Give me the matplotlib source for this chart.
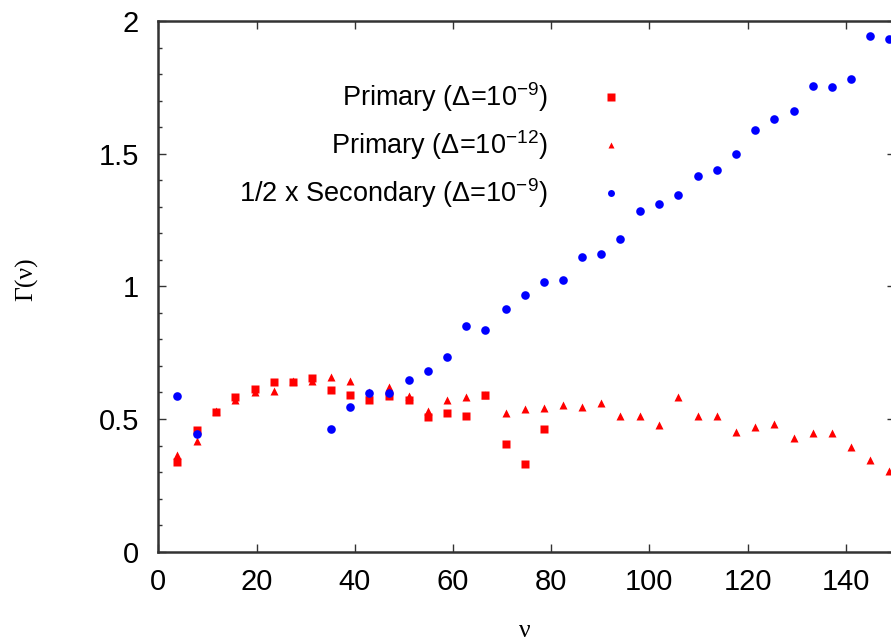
"""Gamma(nu) for primary and secondary runs, gnuplot-style scatter."""

import matplotlib

matplotlib.use("Agg")
import matplotlib.pyplot as plt
from matplotlib.ticker import MultipleLocator

plt.rcParams.update(
    {
        "font.family": ["Liberation Sans", "DejaVu Sans"],
        "mathtext.fontset": "custom",
        "mathtext.rm": "Liberation Sans",
        "mathtext.it": "Liberation Sans",
    }
)

# nu positions of the samples
NU = [3.9, 7.9, 11.8, 15.7, 19.6, 23.5, 27.4, 31.3, 35.2, 39.1, 43.0, 47.0, 51.0,
      54.9, 58.8, 62.7, 66.6, 70.7, 74.6, 78.5, 82.4, 86.3, 90.2, 94.1, 98.0,
      102.0, 105.8, 109.8, 113.7, 117.6, 121.6, 125.4, 129.4, 133.3, 137.2,
      141.1, 145.0, 148.7]

# Primary, Delta = 1e-9 (first 20 nu values)
PRIMARY_9 = [0.337, 0.460, 0.528, 0.582, 0.614, 0.640, 0.641, 0.654, 0.610, 0.592,
             0.570, 0.585, 0.573, 0.507, 0.523, 0.511, 0.589, 0.406, 0.331, 0.463]

# Primary, Delta = 1e-12 (all nu values)
PRIMARY_12 = [0.366, 0.416, 0.530, 0.570, 0.600, 0.607, 0.645, 0.643, 0.660, 0.645,
              0.600, 0.620, 0.585, 0.530, 0.572, 0.582, 0.590, 0.522, 0.538, 0.542,
              0.553, 0.547, 0.562, 0.511, 0.511, 0.477, 0.582, 0.511, 0.511, 0.452,
              0.469, 0.482, 0.428, 0.449, 0.447, 0.394, 0.347, 0.303]

# 1/2 x Secondary, Delta = 1e-9
SECONDARY_NU = [3.9, 7.9] + NU[8:]
SECONDARY_9 = [0.585, 0.444, 0.463, 0.547, 0.599, 0.597, 0.648, 0.680, 0.733, 0.849,
               0.834, 0.913, 0.969, 1.015, 1.025, 1.110, 1.123, 1.180, 1.284, 1.312,
               1.346, 1.416, 1.440, 1.497, 1.591, 1.630, 1.662, 1.755, 1.752, 1.781,
               1.943, 1.932]

LABELS = [
    "Primary (Δ=10$^{-9}$)",
    "Primary (Δ=10$^{-12}$)",
    "1/2 x Secondary (Δ=10$^{-9}$)",
]

RED = "#ff0000"
BLUE = "#0000ff"

fig = plt.figure(figsize=(8.91, 6.44), dpi=100)
ax = fig.add_axes([0.1777, 0.1433, 0.8267, 0.8241])

ax.plot(NU[: len(PRIMARY_9)], PRIMARY_9, ls="none", marker="s", ms=6.3,
        color=RED, mec="none", zorder=3)
ax.plot(NU, PRIMARY_12, ls="none", marker="^", ms=6.2,
        color=RED, mec="none", zorder=3)
ax.plot(SECONDARY_NU, SECONDARY_9, ls="none", marker="o", ms=6.2,
        color=BLUE, mec="none", zorder=4)

ax.set_xlim(0, 150)
ax.set_ylim(0, 2)
ax.xaxis.set_major_locator(MultipleLocator(20))
ax.yaxis.set_major_locator(MultipleLocator(0.5))
ax.yaxis.set_minor_locator(MultipleLocator(0.1))
ax.set_yticks([0, 0.5, 1, 1.5, 2], ["0", "0.5", "1", "1.5", "2"])

ax.tick_params(which="both", direction="in", top=True, right=True,
               labelsize=21, color="#333333", width=1.0)
ax.tick_params(which="major", length=6)
ax.tick_params(which="minor", length=3)
ax.tick_params(axis="x", pad=12)
ax.tick_params(axis="y", pad=14)
for spine in ax.spines.values():
    spine.set_linewidth(1.8)
    spine.set_edgecolor("#333333")

# gnuplot-style key: right-aligned text with the sample marker after it
key_rows = [0.857, 0.766, 0.676]
key_markers = [("s", 5.6), ("^", 4.0), ("o", 5.0)]
key_colors = [RED, RED, BLUE]
for label, yk, (mk, ms), col in zip(LABELS, key_rows, key_markers, key_colors):
    ax.text(0.529, yk, label, transform=ax.transAxes, ha="right", va="center",
            fontsize=19.5, color="black")
    ax.plot([0.6146], [yk], transform=ax.transAxes, ls="none", marker=mk,
            ms=ms, color=col, mec="none", clip_on=False)

fig.text(27 / 891, 1 - 279 / 644, "Γ(ν)", rotation=90, ha="center", va="center",
         fontsize=18.5, family=["Liberation Serif", "DejaVu Serif"])
fig.text(525 / 891, 2 / 644, "ν", ha="center", va="bottom",
         fontsize=18.5, family=["Liberation Serif", "DejaVu Serif"])

fig.savefig("out.png", dpi=100, facecolor="white")
